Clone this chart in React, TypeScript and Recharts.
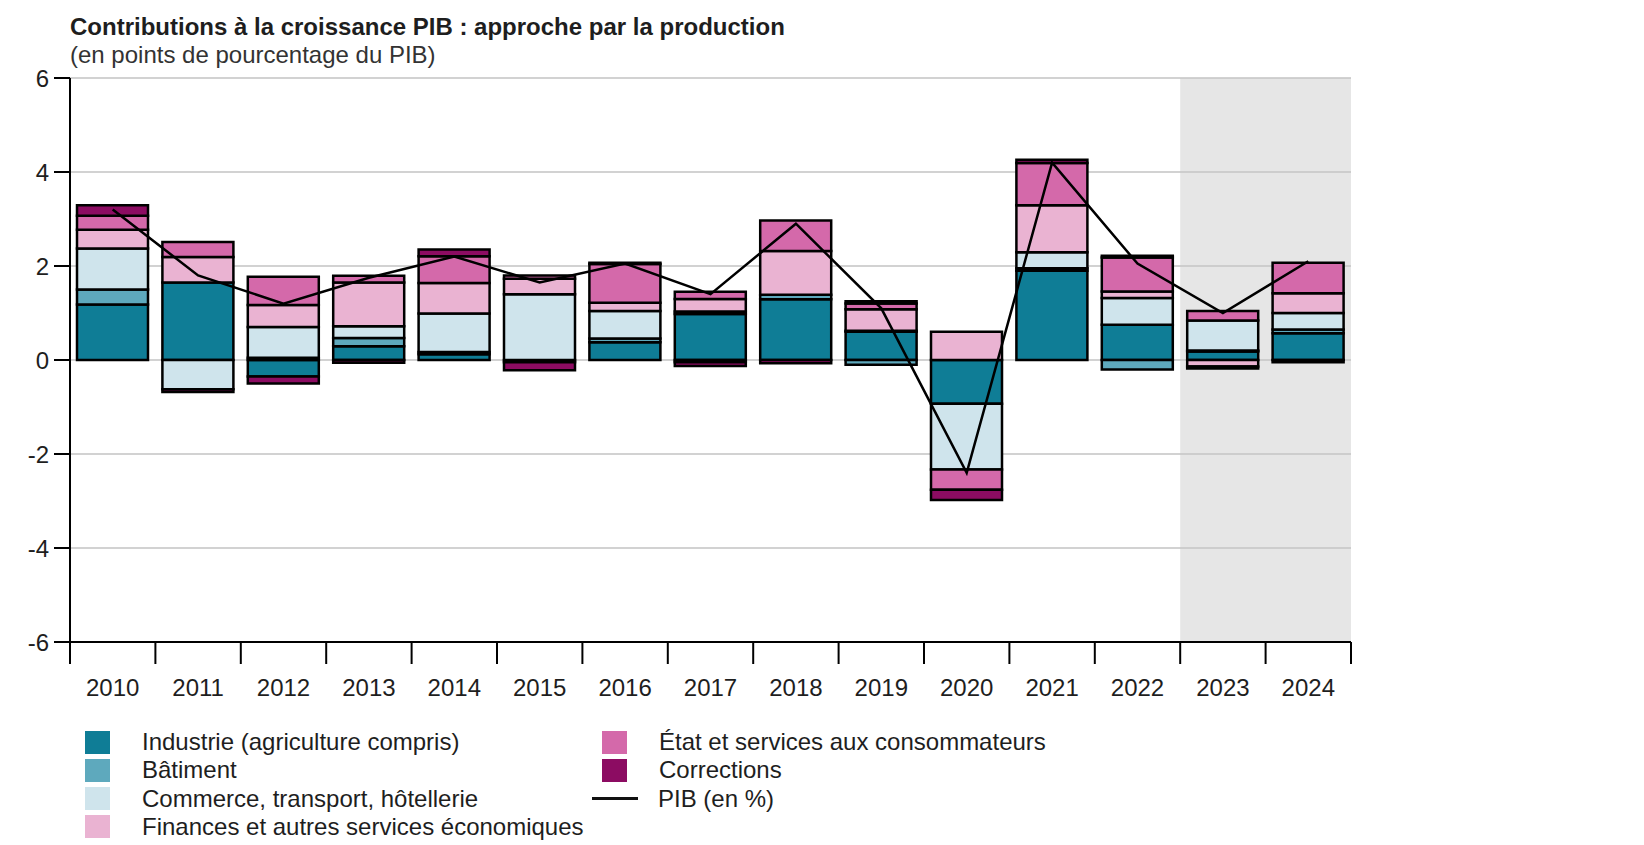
import {
  Bar,
  CartesianGrid,
  ComposedChart,
  Line,
  ReferenceArea,
  XAxis,
  YAxis,
} from "recharts";

const YEARS = [
  "2010", "2011", "2012", "2013", "2014", "2015", "2016", "2017",
  "2018", "2019", "2020", "2021", "2022", "2023", "2024",
];
const INDUSTRIE = [1.18, 1.65, -0.35, 0.29, 0.12, 0, 0.38, 0.98, 1.29, 0.6, -0.93, 1.9, 0.75, 0.18, 0.57];
const BATIMENT = [0.32, 0, 0.05, 0.18, 0.05, -0.05, 0.08, -0.05, 0.1, -0.1, 0, 0.05, -0.2, 0.02, 0.08];
const COMMERCE = [0.87, -0.62, 0.65, 0.25, 0.82, 1.4, 0.58, 0.05, 0, 0.02, -1.4, 0.34, 0.57, 0.64, 0.35];
const FINANCES = [0.4, 0.54, 0.47, 0.93, 0.65, 0.33, 0.18, 0.27, 0.93, 0.46, 0.6, 1.0, 0.14, -0.14, 0.42];
const ETAT = [0.3, 0.32, 0.6, 0.14, 0.57, 0.07, 0.82, 0.15, 0.65, 0.12, -0.43, 0.9, 0.72, 0.2, 0.65];
const CORRECTIONS = [0.22, -0.06, -0.15, -0.06, 0.14, -0.17, 0.03, -0.08, -0.07, 0.05, -0.22, 0.07, 0.04, -0.04, -0.05];
const PIB = [3.2, 1.8, 1.2, 1.75, 2.2, 1.65, 2.05, 1.4, 2.9, 1.1, -2.4, 4.2, 2.05, 1.0, 2.1];
const Y_TICKS = [-6, -4, -2, 0, 2, 4, 6];
const FORECAST = ["2023", "2024"];

const SERIES = [
  { key: "industrie", name: "Industrie (agriculture compris)", color: "#0f7d96" },
  { key: "batiment", name: "Bâtiment", color: "#5ea9bd" },
  { key: "commerce", name: "Commerce, transport, hôtellerie", color: "#cfe4ec" },
  { key: "finances", name: "Finances et autres services économiques", color: "#eab3d2" },
  { key: "etat", name: "État et services aux consommateurs", color: "#d469aa" },
  { key: "corrections", name: "Corrections", color: "#8c0c62" },
];

const data = YEARS.map((year, i) => ({
  year,
  industrie: INDUSTRIE[i],
  batiment: BATIMENT[i],
  commerce: COMMERCE[i],
  finances: FINANCES[i],
  etat: ETAT[i],
  corrections: CORRECTIONS[i],
  pib: PIB[i],
}));

const FONT = '"Liberation Sans", Arial, sans-serif';
const TXT = "#1e1e1e";

// year labels centred in the band, tick marks on the band edges
function YearTick(props: any) {
  const { x, y, payload, index } = props;
  const half = payload?.offset ?? 42.7;
  const last = index === YEARS.length - 1;
  return (
    <g>
      <line x1={x - half} x2={x - half} y1={y} y2={y + 22} stroke="#000" strokeWidth={2} />
      {last && <line x1={x + half} x2={x + half} y1={y} y2={y + 22} stroke="#000" strokeWidth={2} />}
      <text x={x} y={y + 54} textAnchor="middle" fontSize={24} fontFamily={FONT} fill={TXT}>
        {payload.value}
      </text>
    </g>
  );
}

function LegendRow({ left, top, color, line, label }: any) {
  return (
    <div style={{ position: "absolute", left, top, height: 28, display: "flex", alignItems: "center" }}>
      {line ? (
        <div style={{ width: 46, height: 3, background: "#111", marginLeft: -10, marginRight: 20 }} />
      ) : (
        <div style={{ width: 25, height: 23, background: color, marginRight: 32 }} />
      )}
      <span style={{ fontSize: 24, color: TXT, whiteSpace: "nowrap" }}>{label}</span>
    </div>
  );
}

export default function App() {
  const col1 = SERIES.slice(0, 4);
  const col2 = SERIES.slice(4);
  return (
    <div style={{ position: "absolute", left: 0, top: 0, width: 1644, height: 845, background: "#fff", fontFamily: FONT }}>
      <div style={{ position: "absolute", left: 70, top: 13, fontSize: 24, fontWeight: 700, color: TXT, whiteSpace: "nowrap" }}>
        Contributions à la croissance PIB : approche par la production
      </div>
      <div style={{ position: "absolute", left: 70, top: 41, fontSize: 24, color: "#333", whiteSpace: "nowrap" }}>
        (en points de pourcentage du PIB)
      </div>
      <div style={{ position: "absolute", left: 0, top: 0 }}>
        <ComposedChart
          width={1644}
          height={845}
          data={data}
          stackOffset="sign"
          margin={{ top: 78, right: 293, left: 0, bottom: 143 }}
        >
          <CartesianGrid vertical={false} stroke="#d2d2d2" strokeWidth={2} />
          {/* forecast years: semi-transparent so the grid lines still show */}
          <ReferenceArea
            x1={FORECAST[0]}
            x2={FORECAST[1]}
            y1={-6}
            y2={6}
            ifOverflow="visible"
            fill="#c7c7c7"
            fillOpacity={0.44}
            stroke="none"
          />
          <XAxis
            dataKey="year"
            height={60}
            interval={0}
            tickLine={false}
            tickSize={0}
            tickMargin={0}
            axisLine={{ stroke: "#000", strokeWidth: 2 }}
            tick={<YearTick />}
          />
          <YAxis
            type="number"
            domain={[-6, 6]}
            ticks={Y_TICKS}
            width={70}
            allowDataOverflow
            tickSize={16}
            tickMargin={5}
            tick={{ fontSize: 24, fill: TXT, fontFamily: FONT }}
            tickLine={{ stroke: "#000", strokeWidth: 2 }}
            axisLine={{ stroke: "#000", strokeWidth: 2 }}
          />
          {SERIES.map((s) => (
            <Bar
              key={s.key}
              dataKey={s.key}
              name={s.name}
              stackId="a"
              fill={s.color}
              stroke="#000"
              strokeWidth={2.5}
              barSize={71}
              isAnimationActive={false}
            />
          ))}
          <Line
            dataKey="pib"
            name="PIB (en %)"
            type="linear"
            stroke="#000"
            strokeWidth={2.5}
            dot={false}
            activeDot={false}
            isAnimationActive={false}
          />
        </ComposedChart>
      </div>
      {col1.map((s, i) => (
        <LegendRow key={s.key} left={85} top={728 + i * 28.3} color={s.color} label={s.name} />
      ))}
      {col2.map((s, i) => (
        <LegendRow key={s.key} left={602} top={728 + i * 28.3} color={s.color} label={s.name} />
      ))}
      <LegendRow left={602} top={728 + 2 * 28.3} line label="PIB (en %)" />
    </div>
  );
}
